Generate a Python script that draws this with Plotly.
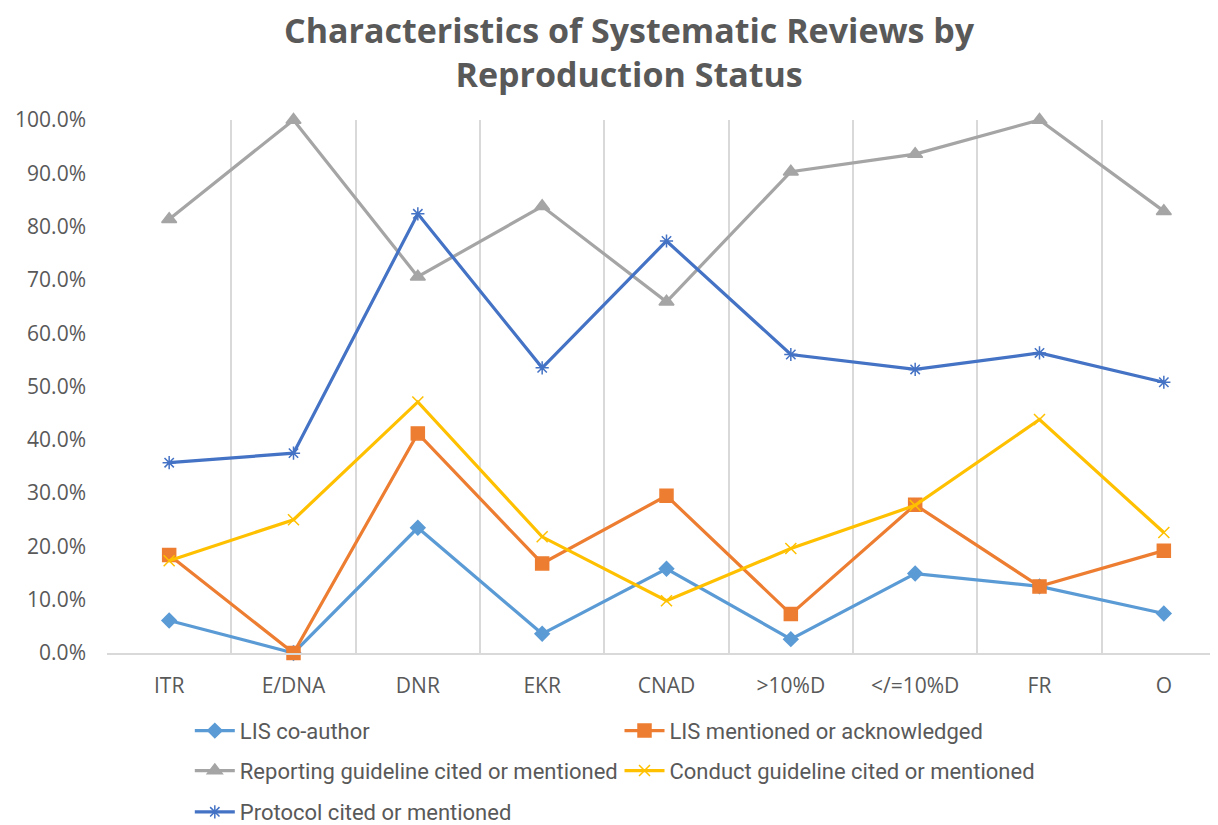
import plotly.graph_objects as go

categories = ["ITR", "E/DNA", "DNR", "EKR", "CNAD", ">10%D", "</=10%D", "FR", "O"]

lis_coauthor = [0.061, 0.0, 0.235, 0.036, 0.158, 0.026, 0.149, 0.125, 0.074]
lis_mentioned = [0.184, 0.0, 0.412, 0.168, 0.295, 0.073, 0.278, 0.125, 0.192]
reporting = [0.814, 1.0, 0.706, 0.838, 0.659, 0.903, 0.936, 1.0, 0.829]
conduct = [0.173, 0.25, 0.471, 0.218, 0.098, 0.196, 0.277, 0.438, 0.226]
protocol = [0.357, 0.375, 0.824, 0.535, 0.773, 0.56, 0.532, 0.563, 0.508]

# name, values, colour, marker, size, legend id
series = [
    ("LIS co-author", lis_coauthor, "#5B9BD5", "diamond", 11, "legend"),
    ("LIS mentioned or acknowledged", lis_mentioned, "#ED7D31", "square", 13, "legend2"),
    ("Reporting guideline cited or mentioned", reporting, "#A5A5A5", "triangle-up", 13, "legend3"),
    ("Conduct guideline cited or mentioned", conduct, "#FFC000", "x-thin-open", 11, "legend4"),
    ("Protocol cited or mentioned", protocol, "#4472C4", "asterisk-open", 11, "legend5"),
]

fig = go.Figure()
for name, vals, color, symbol, size, leg in series:
    fig.add_trace(go.Scatter(
        x=categories, y=vals, name=name, mode="lines+markers",
        line=dict(color=color, width=3.2),
        marker=dict(symbol=symbol, size=size, color=color,
                    line=dict(color=color, width=1.5)),
        cliponaxis=False, legend=leg,
    ))

gray = "#595959"
leg_font = dict(size=22, color=gray, family="Roboto, sans-serif")
col_x = [0.074, 0.458]
row_y = [-0.146, -0.221, -0.299]
legend_pos = {
    "legend": (col_x[0], row_y[0]),
    "legend2": (col_x[1], row_y[0]),
    "legend3": (col_x[0], row_y[1]),
    "legend4": (col_x[1], row_y[1]),
    "legend5": (col_x[0], row_y[2]),
}
legends = {
    k: dict(x=x, y=y, xanchor="left", yanchor="middle", font=leg_font,
            itemwidth=40, bgcolor="rgba(0,0,0,0)")
    for k, (x, y) in legend_pos.items()
}

fig.update_layout(
    width=1218, height=825,
    paper_bgcolor="white", plot_bgcolor="white",
    font=dict(family="Open Sans, sans-serif", color=gray),
    margin=dict(l=99, r=0, t=112, b=178),
    showlegend=True,
    **legends,
)
fig.add_annotation(
    text="<b>Characteristics of Systematic Reviews by<br>Reproduction Status</b>",
    xref="paper", yref="paper", x=0.4665, y=1.216, xanchor="center", yanchor="top",
    showarrow=False, font=dict(size=34, color=gray, family="Open Sans, sans-serif"),
)
fig.update_xaxes(
    type="category", tickson="boundaries", showgrid=True, gridcolor="#D9D9D9",
    gridwidth=1.5, showline=True, linecolor="#D9D9D9", linewidth=1.5,
    ticks="", tickfont=dict(size=21, color=gray), ticklabelstandoff=13,
    zeroline=False, range=[-0.5, 8.5],
)
fig.update_yaxes(
    range=[0, 1], tickvals=[i / 10 for i in range(11)], tickformat=".1%",
    showgrid=False, zeroline=False, showline=False,
    tickfont=dict(size=21, color=gray), ticklabelstandoff=20,
)

fig.write_html("out.html")
